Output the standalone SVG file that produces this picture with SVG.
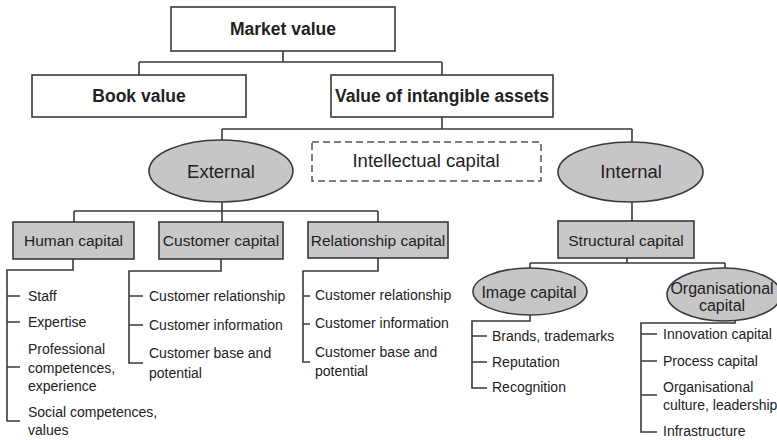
<svg xmlns="http://www.w3.org/2000/svg" width="777" height="440" viewBox="0 0 777 440">
<style>
.bx{fill:#fff;stroke:#3a3a3a;stroke-width:1.6}
.gb{fill:#c8c8c8;stroke:#3a3a3a;stroke-width:1.6}
.el{fill:#c6c6c6;stroke:#3a3a3a;stroke-width:1.6}
.ds{fill:#fff;stroke:#555;stroke-width:1.5;stroke-dasharray:7 4}
.ln{fill:none;stroke:#3a3a3a;stroke-width:1.6}
text{font-family:"Liberation Sans",Arial,sans-serif;fill:#222}
.t1{font-size:17.5px;font-weight:bold;text-anchor:middle}
.t2{font-size:18.5px;text-anchor:middle}
.t3{font-size:15.5px;text-anchor:middle}
.t4{font-size:16px;text-anchor:middle}
.it{font-size:14px}
</style>
<rect width="777" height="440" fill="#fff"/>
<g id="connectors">
<path class="ln" d="M283,51V62M139,62H442M139,62V75M442,62V75"/>
<path class="ln" d="M442,117V129M222,129H632M222,129V140M632,129V142"/>
<path class="ln" d="M222,202V211M74,211H378M74,211V222M222,211V222M378,211V222"/>
<path class="ln" d="M632,202V221"/>
<path class="ln" d="M627,258V263M530,263H725M530,263V268M725,263V268"/>
<path class="ln" d="M73,259V270H7V421H20M7,296H20M7,322H20M7,367H20"/>
<path class="ln" d="M221,259V271H129V363H143M129,296H143M129,325H143"/>
<path class="ln" d="M378,258V271H303V362H310M303,296H310M303,324H310"/>
<path class="ln" d="M530,315V321H472V388H487M472,336H487M472,362H487"/>
<path class="ln" d="M735,321V323H641V432H657M641,334H657M641,361H657M641,395H657"/>
</g>
<g id="market-value"><rect class="bx" x="171" y="7" width="224" height="44"/><text class="t1" x="283" y="35">Market value</text></g>
<g id="book-value"><rect class="bx" x="32" y="75" width="214" height="42"/><text class="t1" x="139" y="102">Book value</text></g>
<g id="intangible"><rect class="bx" x="331" y="75" width="222" height="42"/><text class="t1" x="442" y="102">Value of intangible assets</text></g>
<g id="external"><ellipse class="el" cx="221" cy="171" rx="72" ry="31"/><text class="t2" x="221" y="178">External</text></g>
<g id="intellectual-capital"><rect class="ds" x="312" y="142" width="229" height="39"/><text class="t2" x="426" y="167">Intellectual capital</text></g>
<g id="internal"><ellipse class="el" cx="630.5" cy="172" rx="72.5" ry="30"/><text class="t2" x="631" y="178">Internal</text></g>
<g id="human-capital"><rect class="gb" x="13" y="222" width="121" height="37"/><text class="t3" x="73.5" y="246">Human capital</text>
<text class="it" x="28" y="301">Staff</text><text class="it" x="28" y="327">Expertise</text>
<text class="it" x="28" y="354">Professional</text><text class="it" x="28" y="373">competences,</text><text class="it" x="28" y="391">experience</text>
<text class="it" x="28" y="417">Social competences,</text><text class="it" x="28" y="435">values</text></g>
<g id="customer-capital"><rect class="gb" x="159" y="222" width="124" height="37"/><text class="t3" x="221" y="246">Customer capital</text>
<text class="it" x="149" y="301">Customer relationship</text><text class="it" x="149" y="330">Customer information</text>
<text class="it" x="149" y="358">Customer base and</text><text class="it" x="149" y="378">potential</text></g>
<g id="relationship-capital"><rect class="gb" x="308" y="222" width="140" height="36"/><text class="t3" x="378" y="246">Relationship capital</text>
<text class="it" x="315" y="300">Customer relationship</text><text class="it" x="315" y="328">Customer information</text>
<text class="it" x="315" y="357">Customer base and</text><text class="it" x="315" y="376">potential</text></g>
<g id="structural-capital"><rect class="gb" x="558" y="221" width="136" height="37"/><text class="t3" x="626" y="246">Structural capital</text></g>
<g id="image-capital"><ellipse class="el" cx="530" cy="291.5" rx="57" ry="23.5"/><text class="t4" x="529" y="298">Image capital</text>
<text class="it" x="492" y="341">Brands, trademarks</text><text class="it" x="492" y="367">Reputation</text><text class="it" x="492" y="392">Recognition</text></g>
<g id="organisational-capital"><ellipse class="el" cx="724" cy="294.5" rx="57" ry="26.5"/><text class="t4" x="722" y="294">Organisational</text><text class="t4" x="722" y="311">capital</text>
<text class="it" x="663" y="339">Innovation capital</text><text class="it" x="663" y="366">Process capital</text>
<text class="it" x="663" y="392">Organisational</text><text class="it" x="663" y="410">culture, leadership</text><text class="it" x="663" y="436">Infrastructure</text></g>
</svg>
